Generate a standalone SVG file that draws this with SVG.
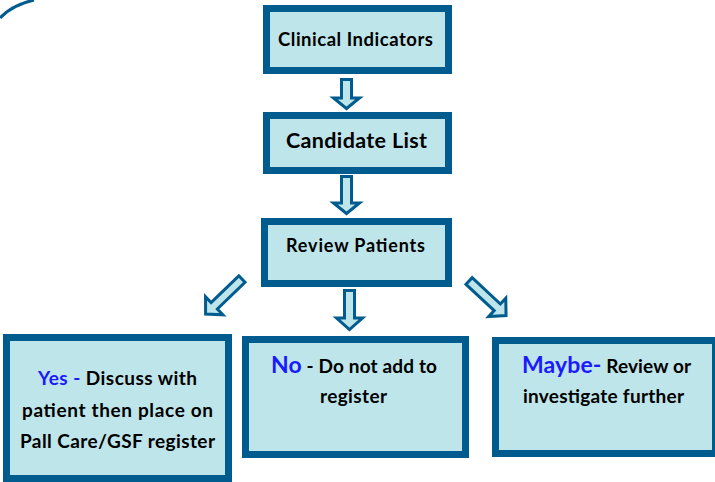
<svg xmlns="http://www.w3.org/2000/svg" width="715" height="482" viewBox="0 0 715 482">
<defs>
<style>
.box{fill:#bde5ea;stroke:#005b8e;stroke-width:7}
.arr{fill:#bde5ea;stroke:#005b8e;stroke-width:3;stroke-linejoin:miter}
text{font-family:Lato,"Open Sans","Liberation Sans",sans-serif;font-weight:bold;fill:#000;text-anchor:middle}
.b{fill:#1a1aff}
</style>
</defs>
<rect width="715" height="482" fill="#fff"/>
<path d="M0,18 Q12,5 34,0" fill="none" stroke="#005b8e" stroke-width="3"/>
<g id="connectors">
<polygon class="arr" points="341.5,79.5 351.5,79.5 351.5,98 359.5,98 346.5,108.5 333.5,98 341.5,98"/>
<polygon class="arr" points="341.5,176.5 351.5,176.5 351.5,203 359.5,203 346.5,213.5 333.5,203 341.5,203"/>
<polygon class="arr" points="344.5,290.5 354.5,290.5 354.5,318 362.5,318 349.5,329.5 336.5,318 344.5,318"/>
<g transform="translate(243,278) rotate(46)"><polygon class="arr" points="-4.5,1.5 4.5,1.5 4.5,40 12.5,40 0,52 -12.5,40 -4.5,40"/></g>
<g transform="translate(468,280) rotate(-47)"><polygon class="arr" points="-4.5,1.5 4.5,1.5 4.5,40 12.5,40 0,52 -12.5,40 -4.5,40"/></g>
</g>
<g id="clinical-indicators">
<rect class="box" x="266.5" y="8.5" width="182" height="62"/>
<text x="355.5" y="46" font-size="18.5" textLength="155" lengthAdjust="spacing">Clinical Indicators</text>
</g>
<g id="candidate-list">
<rect class="box" x="266.5" y="115.5" width="182" height="55"/>
<text x="356.5" y="148" font-size="21.5" textLength="141" lengthAdjust="spacing">Candidate List</text>
</g>
<g id="review-patients">
<rect class="box" x="264.5" y="221.5" width="184" height="62"/>
<text x="355.5" y="252" font-size="18" textLength="139" lengthAdjust="spacing">Review Patients</text>
</g>
<g id="yes">
<rect class="box" x="6.5" y="337.5" width="222" height="141"/>
<text x="117.5" y="385" font-size="19" textLength="159" lengthAdjust="spacing"><tspan class="b">Yes -</tspan> Discuss with</text>
<text x="117.5" y="417" font-size="19" textLength="191" lengthAdjust="spacing">patient then place on</text>
<text x="117.5" y="448" font-size="19" textLength="195" lengthAdjust="spacing">Pall Care/GSF register</text>
</g>
<g id="no">
<rect class="box" x="245.5" y="339.5" width="220" height="115"/>
<text x="354" y="373" font-size="19" textLength="166" lengthAdjust="spacing"><tspan class="b" font-size="23">No</tspan> - Do not add to</text>
<text x="353.5" y="403" font-size="19" textLength="67" lengthAdjust="spacing">register</text>
</g>
<g id="maybe">
<rect class="box" x="495.5" y="340.5" width="220" height="113"/>
<text x="606.5" y="373" font-size="19" textLength="169" lengthAdjust="spacing"><tspan class="b" font-size="23">Maybe-</tspan> Review or</text>
<text x="603.5" y="403" font-size="19" textLength="161" lengthAdjust="spacing">investigate further</text>
</g>
</svg>
